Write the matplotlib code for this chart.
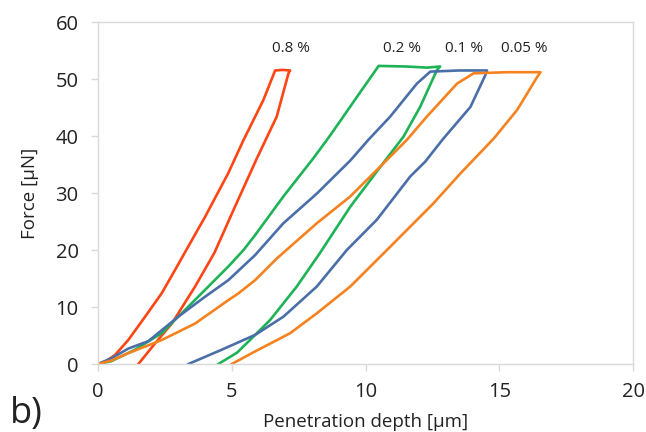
import matplotlib
matplotlib.use("Agg")
import matplotlib.pyplot as plt

plt.rcParams['font.family'] = ['Open Sans', 'DejaVu Sans']

# 0.8 %  (loading, hold, unloading)
red_x = [0, 0.3, 0.64, 1.13, 1.76, 2.38, 2.88, 3.3, 4.0, 4.87, 5.44, 6.18, 6.62,
         6.9, 7.18,
         7.12, 6.68, 5.94, 5.12, 4.35, 3.63, 2.76, 2.13, 1.51]
red_y = [0, 0.5, 1.6, 4.2, 8.3, 12.4, 16.5, 20, 25.8, 33.5, 39.3, 46.3, 51.5,
         51.6, 51.5,
         51.0, 43.4, 36.1, 27.6, 19.5, 13.6, 7.1, 3.6, 0]

# 0.2 %
green_x = [0, 0.5, 1.38, 2.38, 3.0, 4.0, 4.87, 5.44, 5.87, 6.93, 8.05, 8.6, 9.05, 9.61, 10.49,
           11.5, 12.3, 12.79,
           12.67, 12.04, 11.42, 10.7, 9.43, 8.3, 7.43, 6.43, 5.68, 5.2, 4.5]
green_y = [0, 0.5, 2.5, 5.4, 8.3, 13.0, 17.1, 20, 22.6, 29.4, 36.1, 39.6, 42.6, 46.4, 52.3,
           52.2, 52.0, 52.2,
           51.6, 45.1, 39.9, 35.5, 27.6, 19.5, 13.6, 7.7, 4.2, 2.0, 0]

# 0.1 %
blue_x = [0, 0.5, 1.13, 1.88, 3.0, 4.0, 4.87, 5.87, 6.93, 8.18, 9.43, 10.1, 10.92, 11.92, 12.42,
          13.5, 14.54,
          14.48, 13.92, 12.9, 12.23, 11.67, 10.42, 9.3, 8.18, 6.93, 5.87, 4.62, 3.38]
blue_y = [0, 1.0, 2.7, 4.0, 8.3, 11.8, 14.7, 19.1, 24.7, 29.9, 35.7, 39.3, 43.4, 49.2, 51.3,
          51.5, 51.5,
          50.7, 45.1, 39.5, 35.5, 32.9, 25.3, 20, 13.6, 8.3, 5.1, 2.5, 0]

# 0.05 %
orange_x = [0, 0.5, 1.13, 2.38, 3.63, 4.87, 5.25, 5.87, 6.68, 8.18, 9.43, 10.67, 11.54, 12.29, 13.42, 14.04,
            15.3, 16.54,
            16.42, 15.67, 14.8, 13.54, 12.54, 11.67, 10.8, 9.43, 8.18, 7.18, 5.87, 5.0]
orange_y = [0, 0.6, 1.9, 4.2, 7.1, 11.2, 12.4, 14.7, 18.5, 24.7, 29.4, 35.2, 39.3, 43.4, 49.2, 51.0,
            51.2, 51.2,
            50.4, 44.6, 39.6, 33.4, 28.2, 24.1, 20, 13.6, 8.9, 5.4, 2.2, 0]

labels = ['0.8 %', '0.2 %', '0.1 %', '0.05 %']
label_x = [7.2, 11.35, 13.68, 15.93]
label_y = [55.4, 55.3, 55.3, 55.3]

fig = plt.figure(figsize=(6.46, 4.32), dpi=100)
ax = fig.add_axes([0.1517, 0.1574, 0.8283, 0.7916])

for xs, ys, c in [(red_x, red_y, '#FF4514'), (green_x, green_y, '#1DB356'),
                  (blue_x, blue_y, '#4A6FA8'), (orange_x, orange_y, '#F5821F')]:
    ax.plot(xs, ys, color=c, lw=1.9, solid_joinstyle='round')

for t, x, y in zip(labels, label_x, label_y):
    ax.text(x, y, t, ha='center', va='center', fontsize=11, color='#222222')

ax.set_xlim(0, 20)
ax.set_ylim(0, 60)
ax.set_xticks([0, 5, 10, 15, 20])
ax.set_yticks([0, 10, 20, 30, 40, 50, 60])
for s in ax.spines.values():
    s.set_color('#D9D9D9')
    s.set_linewidth(1.0)
ax.tick_params(direction='out', length=5, width=1.0, color='#D9D9D9',
               labelsize=14.5, labelcolor='#222222')
ax.tick_params(axis='x', pad=8)
ax.tick_params(axis='y', pad=9)

ax.set_xlabel('Penetration depth [μm]', fontsize=13.5, color='#222222', labelpad=8)
ax.set_ylabel('Force [μN]', fontsize=13.5, color='#222222', labelpad=12)

fig.text(0.016, 0.02, 'b)', fontsize=26, color='#222222')

fig.savefig('out.png', dpi=100)
